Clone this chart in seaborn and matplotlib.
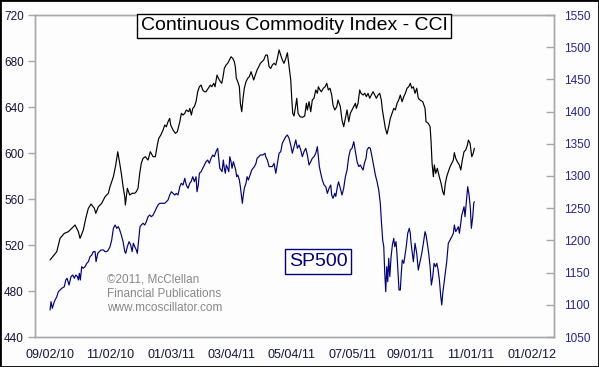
import pandas as pd
import seaborn as sns
import matplotlib.pyplot as plt
from matplotlib.patches import Rectangle

# days after 09/02/10 and values
start = pd.Timestamp('2010-09-02')

cci_days = [0, 6.8, 10.1, 14.4, 18.5, 21.9, 25.3, 28.6, 30.3, 33.6, 36.1, 38.7, 41.4, 44.8, 46.2, 48.8,
            52.2, 55.6, 58.9, 60.6, 64.0, 66.4, 68.4, 70.4, 72.0, 73.8, 75.5, 76.1, 78.1, 80.5, 82.9, 85.6,
            87.2, 88.9, 90.6, 92.2, 94.0, 96.3, 99.0, 101.3, 104.1, 106.4, 108.4, 109.8, 111.9, 114.2,
            115.9, 117.5, 119.2, 120.9, 121.9, 124.3, 126.6, 128.6, 131.1, 132.7, 134.4, 136.1, 137.7,
            140.1, 141.2, 142.8, 144.2, 145.8, 147.5, 149.2, 150.9, 152.6, 154.3, 155.9, 157.6, 159.9,
            162.0, 163.4, 165.4, 166.7, 168.7, 170.1, 172.1, 173.5, 174.8, 176.1, 177.8, 179.5, 181.2,
            182.9, 184.6, 186.2, 187.2, 188.2, 189.7, 191.3, 192.3, 193.7, 195.0, 196.3, 198.0, 199.8,
            201.4, 203.1, 204.8, 205.8, 207.4, 209.2, 210.9, 212.5, 214.2, 215.9, 217.9, 219.6, 221.3,
            223.0, 224.6, 226.3, 228.1, 229.7, 231.4, 233.1, 234.7, 236.4, 238.2, 239.8, 241.5, 243.2,
            244.2, 245.2, 246.5, 248.3, 249.3, 250.6, 252.6, 254.9, 257.3, 259.0, 260.0, 261.7, 263.4,
            265.0, 266.7, 268.5, 270.1, 271.1, 272.8, 274.1, 276.1, 277.9, 279.6, 281.2, 282.9, 284.6,
            285.9, 287.7, 289.7, 291.0, 293.3, 295.0, 296.7, 298.4, 300.1, 301.8, 303.4, 305.1, 306.9,
            308.5, 309.5, 311.2, 312.9, 314.2, 316.3, 318.0, 319.6, 321.3, 323.0, 324.6, 326.4, 328.1,
            329.7, 331.4, 333.1, 334.7, 335.8, 337.2, 338.8, 340.5, 342.2, 343.8, 345.6, 347.3, 348.9,
            350.6, 352.3, 353.9, 355.7, 357.4, 359.0, 360.7, 362.4, 364.0, 365.5, 367.1, 368.8, 370.5,
            372.1, 373.8, 376.6, 378.9, 379.9, 382.2, 384.0, 385.0, 386.0, 387.3, 388.3, 389.7, 391.3,
            393.3, 395.1, 396.8, 398.1, 399.4, 400.8, 402.4, 404.2, 405.9, 407.5, 408.5, 409.9, 411.5,
            413.6, 415.0, 416.6, 418.3, 420.0, 421.7, 422.7, 424.4, 426.1, 427.6, 428.7]
cci_vals = [507.0, 514.2, 525.8, 530.1, 531.6, 534.5, 537.4, 531.6, 525.8, 533.0, 543.2, 551.9, 555.6,
            551.9, 547.5, 553.3, 556.3, 562.0, 565.0, 570.7, 579.4, 589.6, 601.1, 591.0, 582.3, 570.7,
            562.0, 554.8, 569.3, 563.5, 565.0, 565.0, 566.4, 569.3, 582.3, 591.0, 595.4, 596.8, 593.9,
            601.1, 596.8, 596.8, 606.9, 612.7, 615.6, 620.0, 624.3, 622.8, 627.2, 630.1, 624.3, 620.0,
            617.1, 618.5, 627.2, 634.5, 633.0, 634.5, 637.4, 635.9, 638.8, 633.0, 638.8, 640.3, 644.6,
            653.3, 657.6, 659.1, 654.8, 653.3, 653.3, 656.3, 659.1, 657.6, 660.6, 657.6, 667.8, 665.0,
            662.0, 660.6, 666.3, 673.6, 676.5, 678.0, 680.9, 683.7, 682.3, 679.4, 675.0, 665.0, 662.0,
            657.6, 643.2, 635.9, 647.6, 656.3, 662.0, 665.0, 666.3, 670.7, 666.3, 663.5, 667.8, 672.2,
            675.0, 678.0, 679.4, 680.9, 685.2, 685.2, 675.0, 673.6, 676.5, 678.0, 676.5, 682.3, 689.6,
            685.2, 680.9, 678.0, 682.3, 687.2, 675.0, 663.5, 647.6, 634.5, 632.2, 641.7, 647.6, 634.5,
            631.6, 631.0, 632.2, 643.2, 637.4, 644.6, 635.9, 646.1, 647.6, 654.8, 651.9, 657.6, 654.8,
            653.3, 656.3, 657.6, 660.6, 654.8, 656.3, 650.4, 641.7, 637.4, 640.3, 646.1, 640.3, 628.7,
            622.9, 630.1, 637.4, 627.2, 634.5, 637.4, 640.3, 643.2, 638.8, 643.2, 654.8, 651.9, 650.4,
            651.9, 649.0, 651.9, 647.6, 650.4, 653.3, 650.4, 647.6, 650.4, 651.9, 646.1, 637.4, 630.1,
            621.5, 616.5, 622.9, 630.1, 634.5, 638.8, 637.4, 643.2, 646.1, 650.4, 644.6, 649.0, 651.9,
            656.3, 657.6, 660.6, 656.3, 657.6, 651.9, 656.3, 647.6, 646.1, 644.6, 638.8, 627.2, 625.8,
            622.9, 609.8, 591.0, 579.4, 589.6, 582.3, 586.7, 579.4, 573.6, 566.4, 563.5, 573.6, 579.4,
            583.7, 588.1, 591.0, 593.9, 600.3, 595.4, 592.5, 589.6, 585.2, 593.9, 601.1, 602.6, 606.9,
            611.3, 608.4, 596.8, 599.7, 604.1]

spx_days = [0, 1.0, 2.3, 4.3, 6.8, 8.4, 10.1, 11.8, 14.4, 15.9, 17.2, 19.2, 21.2, 22.9, 24.6, 26.0,
            27.6, 28.6, 29.6, 30.6, 32.0, 33.6, 35.4, 37.1, 38.7, 40.4, 42.1, 43.8, 45.5, 46.5, 48.2,
            49.8, 51.5, 53.9, 55.6, 57.3, 58.9, 60.6, 62.3, 64.0, 65.7, 67.4, 69.0, 70.4, 72.0, 73.8,
            75.5, 76.5, 78.1, 79.8, 81.5, 82.9, 84.2, 85.6, 87.2, 88.2, 89.6, 90.9, 92.2, 94.0, 95.7,
            97.3, 99.0, 100.7, 102.4, 104.1, 105.8, 107.4, 109.1, 110.8, 112.5, 114.2, 115.9, 117.5,
            119.2, 120.9, 122.6, 124.3, 126.0, 127.6, 129.3, 131.1, 132.7, 134.4, 136.1, 137.7, 139.4,
            141.2, 142.5, 144.2, 145.8, 147.5, 148.5, 149.8, 150.9, 152.6, 154.3, 155.9, 157.6, 159.3,
            160.9, 162.7, 164.4, 166.0, 167.7, 169.4, 170.4, 171.5, 172.8, 173.8, 175.1, 176.1, 177.1,
            178.1, 179.5, 180.6, 181.6, 182.9, 183.9, 185.2, 186.2, 187.6, 188.6, 189.7, 191.3, 192.3,
            193.3, 194.3, 195.3, 196.3, 198.0, 199.1, 200.4, 202.1, 203.8, 205.1, 206.5, 208.1, 209.2,
            210.9, 212.5, 214.9, 217.2, 217.9, 219.6, 221.3, 223.0, 224.6, 226.3, 228.1, 229.7, 231.4,
            233.1, 234.7, 236.4, 238.2, 239.8, 241.5, 243.2, 244.8, 246.5, 248.3, 249.9, 251.6, 253.3,
            254.9, 256.6, 258.4, 260.0, 261.7, 263.4, 265.0, 266.7, 268.5, 270.1, 271.1, 272.1, 273.5,
            275.1, 276.9, 278.6, 280.2, 281.9, 283.6, 284.6, 285.9, 287.7, 288.7, 290.3, 291.5, 293.3,
            295.0, 296.7, 298.4, 300.1, 301.8, 303.4, 305.1, 306.9, 308.5, 310.2, 311.9, 313.5, 315.2,
            316.3, 317.6, 319.3, 320.3, 322.0, 323.6, 325.3, 327.1, 328.7, 330.4, 332.1, 333.7, 334.7,
            336.1, 337.2, 338.2, 339.2, 340.2, 341.2, 342.2, 343.3, 344.6, 345.9, 347.3, 348.3, 349.6,
            350.6, 351.6, 352.6, 353.9, 354.9, 355.9, 357.4, 358.4, 359.7, 361.4, 363.0, 364.0, 364.7,
            367.1, 368.8, 370.5, 372.1, 373.8, 375.6, 377.2, 378.9, 379.9, 381.2, 382.6, 384.0, 385.3,
            386.7, 388.0, 389.4, 390.8, 392.1, 393.4, 394.8, 395.8, 396.8, 398.1, 399.4, 400.8, 402.4,
            404.2, 405.9, 407.5, 408.5, 409.9, 410.9, 412.6, 413.6, 415.0, 416.0, 417.0, 418.3, 419.3,
            421.0, 422.0, 423.4, 424.7, 425.7, 427.1, 428.1, 428.7]
spx_vals = [1091.9, 1104.9, 1094.5, 1104.9, 1112.6, 1120.3, 1123.0, 1125.6, 1128.0, 1138.5, 1141.2,
            1130.7, 1143.8, 1146.3, 1141.2, 1146.3, 1143.8, 1138.5, 1148.9, 1138.5, 1159.2, 1156.7,
            1159.2, 1164.4, 1166.9, 1174.7, 1177.3, 1182.6, 1182.6, 1166.9, 1179.9, 1182.6, 1185.1,
            1185.1, 1182.6, 1182.6, 1185.1, 1190.3, 1200.6, 1218.8, 1223.9, 1218.8, 1221.3, 1216.2,
            1208.4, 1198.0, 1182.6, 1179.9, 1190.3, 1198.0, 1192.9, 1182.6, 1195.5, 1190.3, 1185.1,
            1179.9, 1200.6, 1221.3, 1223.9, 1226.6, 1223.9, 1229.0, 1236.8, 1239.4, 1236.8, 1239.4,
            1244.6, 1249.9, 1255.0, 1257.6, 1257.6, 1257.6, 1257.6, 1260.1, 1262.7, 1270.5, 1275.6,
            1273.0, 1270.5, 1273.0, 1270.5, 1283.4, 1288.7, 1286.0, 1296.4, 1286.0, 1280.9, 1288.7,
            1291.2, 1298.9, 1291.2, 1298.9, 1275.6, 1286.0, 1304.2, 1306.7, 1312.0, 1317.1, 1322.2,
            1324.8, 1319.7, 1327.5, 1332.6, 1330.0, 1337.8, 1343.0, 1327.5, 1312.0, 1309.3, 1306.7,
            1324.8, 1312.0, 1304.2, 1317.1, 1312.0, 1306.7, 1330.0, 1322.2, 1312.0, 1322.2, 1317.1,
            1309.3, 1298.9, 1301.6, 1293.8, 1283.4, 1270.5, 1257.6, 1270.5, 1280.9, 1288.7, 1298.9,
            1293.8, 1301.6, 1309.3, 1312.0, 1314.6, 1319.7, 1327.5, 1330.0, 1332.6, 1332.6, 1335.3,
            1330.0, 1324.8, 1314.6, 1314.6, 1314.6, 1319.7, 1304.2, 1319.7, 1335.3, 1337.8, 1350.8,
            1356.0, 1361.1, 1363.7, 1358.5, 1348.1, 1335.3, 1345.5, 1356.0, 1343.0, 1348.1, 1340.4,
            1330.0, 1337.8, 1343.0, 1332.6, 1317.1, 1322.2, 1327.5, 1330.0, 1335.3, 1345.5, 1330.0,
            1314.6, 1304.2, 1293.8, 1286.0, 1283.4, 1273.0, 1280.9, 1286.0, 1270.5, 1265.4, 1273.0,
            1268.2, 1283.4, 1291.0, 1280.9, 1270.5, 1280.9, 1298.9, 1309.3, 1330.0, 1340.4, 1343.0,
            1353.3, 1337.8, 1322.2, 1314.6, 1317.1, 1312.0, 1309.3, 1319.7, 1327.5, 1340.4, 1344.5,
            1343.0, 1330.0, 1314.6, 1301.6, 1291.2, 1278.3, 1257.6, 1231.7, 1200.6, 1190.3, 1148.9,
            1120.3, 1159.2, 1135.9, 1172.2, 1143.8, 1174.7, 1192.9, 1203.2, 1190.3, 1198.0, 1177.3,
            1148.9, 1123.0, 1123.0, 1148.9, 1169.6, 1164.4, 1174.7, 1187.7, 1211.0, 1218.8, 1211.0,
            1197.0, 1166.9, 1195.5, 1179.9, 1154.0, 1166.9, 1179.9, 1195.5, 1213.6, 1208.4, 1195.5,
            1179.9, 1159.2, 1130.7, 1143.8, 1164.4, 1159.2, 1164.4, 1154.0, 1138.5, 1112.6, 1099.7,
            1117.8, 1133.4, 1148.9, 1166.9, 1195.5, 1200.6, 1205.7, 1211.0, 1223.9, 1213.6, 1216.2,
            1221.3, 1211.0, 1226.6, 1239.4, 1244.6, 1252.3, 1236.8, 1265.4, 1283.4, 1270.5, 1249.9,
            1218.8, 1236.8, 1257.6, 1260.1]

xtick_labels = ['09/02/10', '11/02/10', '01/03/11', '03/04/11', '05/04/11',
                '07/05/11', '09/01/11', '11/01/11', '01/02/12']
cci_ticks = [440, 480, 520, 560, 600, 640, 680, 720]
spx_ticks = [1050, 1100, 1150, 1200, 1250, 1300, 1350, 1400, 1450, 1500, 1550]

cci = pd.DataFrame({'date': start + pd.to_timedelta(cci_days, unit='D'), 'CCI': cci_vals})
spx = pd.DataFrame({'date': start + pd.to_timedelta(spx_days, unit='D'), 'SP500': spx_vals})
xticks = pd.to_datetime(xtick_labels, format='%m/%d/%y')

sns.set_style('white')
plt.rcParams['font.family'] = ['Liberation Sans', 'DejaVu Sans']

bg = '#fdfdfd'
grey = '#a8a8a8'
fig = plt.figure(figsize=(5.99, 3.67), dpi=100, facecolor=bg)
ax = fig.add_axes([35 / 599, 30 / 367, 519 / 599, 322 / 367])
ax.set_facecolor(bg)
ax2 = ax.twinx()

sns.lineplot(data=cci, x='date', y='CCI', ax=ax, color='black', lw=0.85,
             estimator=None, sort=False)
sns.lineplot(data=spx, x='date', y='SP500', ax=ax2, color='#000080', lw=0.85,
             estimator=None, sort=False)

ax.set_xlim(start - pd.Timedelta(days=15.2), start + pd.Timedelta(days=509.2))
ax.set_ylim(440, 720)
ax2.set_ylim(1050, 1550)
ax.set_xticks(xticks)
ax.set_xticklabels(xtick_labels)
ax.set_yticks(cci_ticks)
ax2.set_yticks(spx_ticks)
ax.set_xlabel('')
ax.set_ylabel('')
ax2.set_ylabel('')

ax.tick_params(axis='x', length=0, pad=9, labelsize=9, labelcolor='#141440')
ax.tick_params(axis='y', direction='out', length=5, width=1, color=grey, pad=3,
               labelsize=8.5, labelcolor='#1a1040')
ax2.tick_params(axis='y', direction='in', length=6, width=1, color=grey, pad=7,
                labelsize=8.5, labelcolor='#25258e')
for a in (ax, ax2):
    for s in a.spines.values():
        s.set_color(grey)
        s.set_linewidth(1)

fig.text(294 / 599, 1 - 25.5 / 367, 'Continuous Commodity Index - CCI', ha='center', va='center',
         fontsize=14, color='black',
         bbox=dict(boxstyle='square,pad=0.18', fc='white', ec='black', lw=1))
fig.text(318 / 599, 1 - 261.5 / 367, 'SP500', ha='center', va='center', fontsize=14,
         color='#000080',
         bbox=dict(boxstyle='square,pad=0.2', fc='white', ec='#000080', lw=1))
for i, line in enumerate(['\u00a92011, McClellan', 'Financial Publications', 'www.mcoscillator.com']):
    fig.text(107 / 599, 1 - (280 + 14 * i) / 367, line, ha='left', va='center',
             fontsize=8.5, color='#888888')

fig.add_artist(Rectangle((0, 0), 1, 1, transform=fig.transFigure, fill=False,
                         ec='black', lw=2))

plt.savefig('out.png', dpi=100, facecolor=bg)
